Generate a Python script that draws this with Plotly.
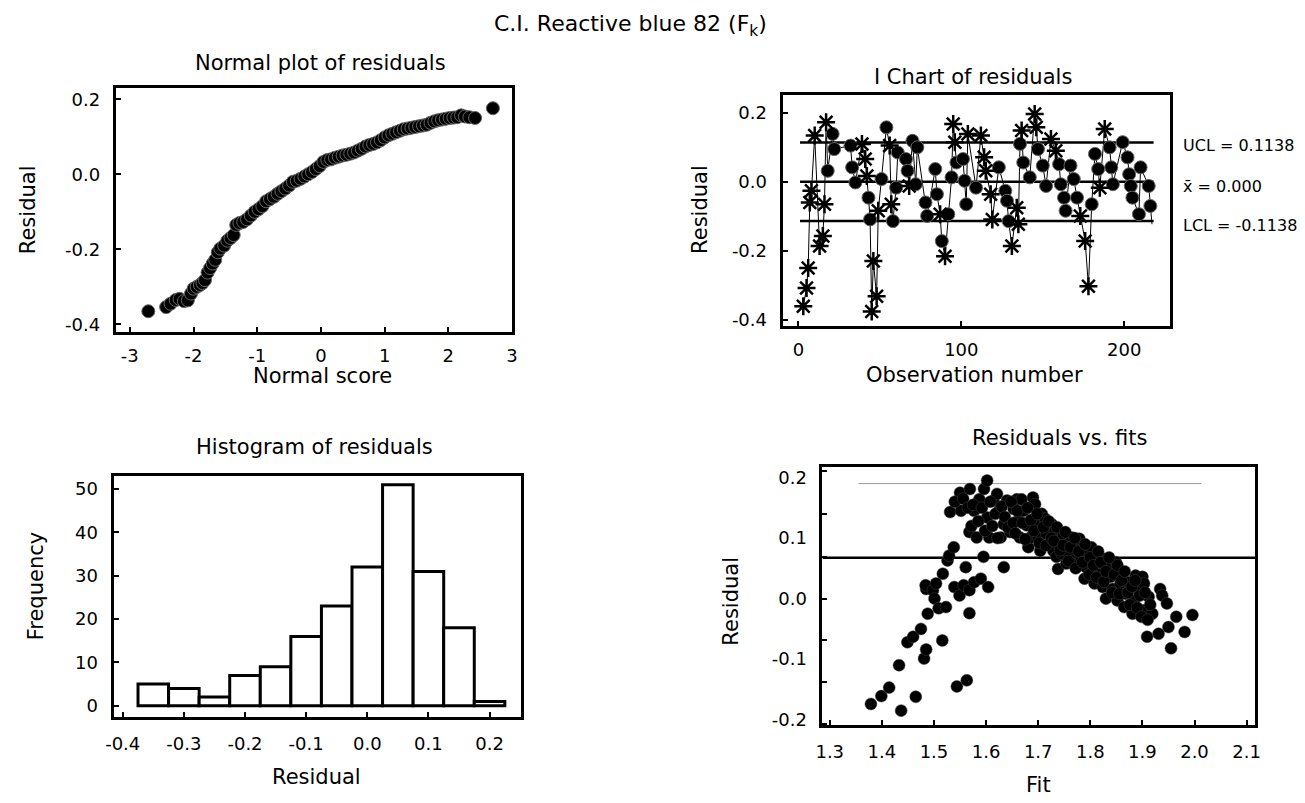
import plotly.graph_objects as go

W, H = 1305, 803
FONT = "DejaVu Sans"

# ---------------- data ----------------
# Normal plot of residuals
normal_scores = [-2.71, -2.43, -2.36, -2.28, -2.22, -2.15, -2.09, -2.04, -2.00, -1.95, -1.90, -1.86,
                 -1.82, -1.78, -1.74, -1.70, -1.66, -1.62, -1.58, -1.52, -1.47, -1.42, -1.37, -1.33,
                 -1.28, -1.22, -1.16, -1.10, -1.04, -0.98, -0.92, -0.86, -0.80, -0.74, -0.68, -0.62,
                 -0.56, -0.50, -0.44, -0.38, -0.32, -0.26, -0.20, -0.14, -0.08, -0.02, 0.04, 0.10,
                 0.16, 0.22, 0.28, 0.34, 0.40, 0.46, 0.52, 0.58, 0.64, 0.70, 0.76, 0.82, 0.88, 0.94,
                 1.00, 1.06, 1.12, 1.18, 1.24, 1.30, 1.36, 1.42, 1.48, 1.54, 1.60, 1.66, 1.72, 1.78,
                 1.84, 1.90, 1.96, 2.02, 2.08, 2.14, 2.20, 2.26, 2.33, 2.42, 2.70]
normal_resid = [-0.365, -0.354, -0.345, -0.335, -0.332, -0.338, -0.336, -0.318, -0.305, -0.300, -0.295, -0.290,
                -0.282, -0.262, -0.250, -0.238, -0.228, -0.208, -0.198, -0.190, -0.177, -0.170, -0.162, -0.135,
                -0.130, -0.127, -0.120, -0.110, -0.100, -0.093, -0.085, -0.072, -0.066, -0.060, -0.052, -0.045,
                -0.038, -0.030, -0.020, -0.017, -0.012, -0.006, 0.000, 0.006, 0.014, 0.022, 0.033, 0.038,
                0.040, 0.044, 0.047, 0.050, 0.052, 0.055, 0.058, 0.063, 0.068, 0.074, 0.078, 0.081, 0.085, 0.091,
                0.098, 0.104, 0.108, 0.112, 0.116, 0.120, 0.122, 0.124, 0.126, 0.128, 0.130, 0.132, 0.137, 0.141,
                0.144, 0.146, 0.148, 0.150, 0.151, 0.152, 0.157, 0.154, 0.152, 0.150, 0.176]

# I chart of residuals
obs_number = [3, 5, 6, 7, 8, 10, 13, 15, 16, 17, 18, 21, 22, 32, 33, 35, 39, 41, 42, 43, 44, 45, 46, 48, 49,
              51, 54, 56, 57, 58, 60, 61, 66, 67, 68, 70, 72, 73, 78, 79, 84, 85, 87, 88, 90, 92, 94, 95, 96,
              97, 101, 102, 103, 104, 109, 112, 114, 115, 118, 119, 123, 127, 128, 129, 131, 134, 135, 136, 137,
              138, 142, 145, 146, 147, 150, 152, 155, 158, 160, 161, 163, 164, 167, 169, 171, 173, 176, 178, 180,
              182, 184, 185, 188, 191, 192, 193, 199, 202, 203, 204, 205, 209, 210, 215, 216, 217]
obs_resid = [-0.361, -0.308, -0.250, -0.060, -0.026, 0.134, -0.186, -0.157, -0.065, 0.173, 0.032, 0.139, 0.095,
             0.105, 0.042, -0.002, 0.110, 0.066, 0.017, -0.046, -0.109, -0.376, -0.230, -0.332, -0.084,
             0.008, 0.158, 0.105, -0.065, -0.114, -0.017, 0.085, 0.066, 0.032, -0.012, 0.119, -0.007, 0.100,
             -0.060, -0.099, 0.037, -0.036, -0.094, -0.172, -0.216, -0.094, 0.013, 0.168, 0.115,
             0.056, 0.066, 0.003, -0.065, 0.139, -0.017, 0.134, 0.071, 0.032, -0.036, -0.109, 0.042, -0.026,
             -0.055, -0.114, -0.186, -0.075, -0.123, 0.110, 0.149,
             0.056, 0.013, 0.197, 0.158, 0.095, 0.047, -0.012, 0.124, 0.090, 0.051, -0.007, -0.046, -0.084,
             0.047, 0.008, -0.046, -0.099, -0.172, -0.303, -0.065,
             0.081, 0.037, -0.017, 0.153, 0.100, 0.042, -0.007, 0.115, 0.071, 0.022, -0.012, -0.046, -0.094,
             0.042, -0.012, -0.070, -0.123]
obs_flag = list("ssssssssssccccccsssccssssccsscccccscccccccscsccss"
                "ccccsc" "sssss" "cccc" "sss" "cscc" "sscccss" "cccccccss" "s"
                "ccc" "sscc" "cccccc" "cccc")
UCL, CENTER, LCL = 0.1138, 0.0, -0.1138
limit_span = [1, 218]
limit_labels = ["UCL = 0.1138", "x\u0304 = 0.000", "LCL = -0.1138"]

# Histogram of residuals
bin_centers = [-0.35, -0.30, -0.25, -0.20, -0.15, -0.10, -0.05, 0.00, 0.05, 0.10, 0.15, 0.20]
bin_counts = [5, 4, 2, 7, 9, 16, 23, 32, 51, 31, 18, 1]
bin_width = 0.05

# Residuals vs. fits (outer / visible points)
fits = [1.379, 1.399, 1.414, 1.437, 1.433, 1.465, 1.449, 1.460, 1.475, 1.481, 1.485, 1.488, 1.485, 1.484,
        1.498, 1.501, 1.504, 1.509, 1.516, 1.517, 1.523, 1.526, 1.529, 1.538, 1.531, 1.539, 1.544, 1.549,
        1.552, 1.550, 1.557, 1.561, 1.563, 1.568, 1.569, 1.568, 1.568, 1.577, 1.577, 1.582, 1.587, 1.590,
        1.595, 1.596, 1.602, 1.604, 1.602, 1.606, 1.614, 1.621, 1.625, 1.628, 1.634, 1.634, 1.640, 1.646,
        1.653, 1.659, 1.662, 1.665, 1.668, 1.672, 1.678, 1.681, 1.685, 1.690, 1.694, 1.697, 1.700, 1.704,
        1.707, 1.713, 1.716, 1.721, 1.726, 1.729, 1.732, 1.735, 1.738, 1.741, 1.745, 1.748, 1.754, 1.757,
        1.760, 1.764, 1.767, 1.773, 1.776, 1.779, 1.782, 1.789, 1.792, 1.795, 1.802, 1.805, 1.808, 1.811,
        1.817, 1.821, 1.824, 1.830, 1.833, 1.839, 1.843, 1.849, 1.852, 1.858, 1.862, 1.865, 1.868, 1.874,
        1.881, 1.884, 1.887, 1.893, 1.900, 1.903, 1.903, 1.909, 1.912, 1.919, 1.931, 1.934, 1.938, 1.947,
        1.950, 1.955, 1.965, 1.981, 1.996]
fit_resid = [-0.174, -0.161, -0.147, -0.185, -0.110, -0.162, -0.072, -0.063, -0.050, -0.099, -0.084, -0.025,
             0.016, 0.022, 0.014, 0.000, 0.025, -0.016, -0.069, 0.041, -0.014, 0.063, 0.071, 0.085, 0.143,
             0.019, -0.145, 0.005, 0.145, 0.175, 0.022, 0.052, -0.135, -0.024, 0.181, 0.110, 0.014, 0.145,
             0.027, 0.101, 0.164, 0.033, 0.069, 0.181, 0.195, 0.019, 0.134, 0.101, 0.162, 0.173, 0.145, 0.101,
             0.052, 0.123, 0.162, 0.110, 0.148, 0.164, 0.129, 0.101, 0.164, 0.145, 0.121, 0.085, 0.101, 0.167,
             0.156, 0.123, 0.101, 0.079, 0.140, 0.132, 0.107, 0.090, 0.123, 0.079, 0.112, 0.069, 0.049, 0.096,
             0.074, 0.107, 0.058, 0.090, 0.074, 0.101, 0.063, 0.085, 0.058, 0.099, 0.069, 0.033, 0.052, 0.079,
             0.085, 0.047, 0.025, 0.063, 0.071, 0.041, 0.019, 0.000, 0.052, 0.036, 0.016, 0.060, -0.003, 0.025,
             0.041, -0.014, 0.008, 0.027, -0.025, -0.003, 0.038, 0.014, 0.036, -0.019, 0.025, -0.063, 0.003,
             -0.025, -0.058, 0.016, 0.005, -0.008, -0.047, -0.082, -0.030, -0.055, -0.027]
# Residuals vs. fits (points inside the dense band)
fits_dense = [1.540, 1.556, 1.565, 1.572, 1.575, 1.585, 1.592, 1.598, 1.608, 1.612, 1.618, 1.622, 1.630,
              1.636, 1.642, 1.648, 1.652, 1.656, 1.660, 1.670, 1.675, 1.680, 1.686, 1.692, 1.698, 1.702,
              1.710, 1.715, 1.720, 1.725, 1.730, 1.736, 1.742, 1.748, 1.752, 1.758, 1.762, 1.770, 1.772,
              1.778, 1.785, 1.790, 1.798, 1.800, 1.806, 1.812, 1.815, 1.820, 1.826, 1.830, 1.836, 1.842,
              1.846, 1.852, 1.856, 1.860, 1.866, 1.872, 1.876, 1.880, 1.886, 1.890, 1.895, 1.898, 1.905,
              1.910, 1.915]
fit_resid_dense = [0.160, 0.165, 0.150, 0.120, 0.155, 0.128, 0.150, 0.112, 0.160, 0.120, 0.140, 0.100, 0.152,
                   0.135, 0.118, 0.160, 0.125, 0.108, 0.145, 0.125, 0.098, 0.150, 0.130, 0.112, 0.140, 0.092,
                   0.118, 0.088, 0.128, 0.100, 0.095, 0.118, 0.080, 0.088, 0.110, 0.062, 0.085, 0.100, 0.050,
                   0.078, 0.060, 0.090, 0.040, 0.068, 0.055, 0.035, 0.078, 0.060, 0.028, 0.045, 0.068, 0.010,
                   0.040, 0.055, 0.008, 0.030, 0.045, 0.010, -0.010, 0.020, 0.030, -0.015, 0.005, -0.030, 0.010,
                   -0.035, -0.010]
fit_ref_line = 0.0674
fit_ref_span = [1.286, 2.117]
fit_top_line_x = [1.355, 2.013]
fit_top_line_y = 0.190
fit_ytick_labels = [0.2, 0.1, 0.0, -0.1, -0.2]
fit_ytick_marks = [0.210, 0.139, 0.069, 0.0, -0.069, -0.137, -0.207]


# ---------------- helpers ----------------
def px_x(x):
    return x / W


def px_y(y):
    return 1 - y / H


def fmt(v, nd=1):
    s = f"{v:.{nd}f}"
    return "0.0" if s == "-0.0" else s


fig = go.Figure()

# Panel 1: normal plot
fig.add_trace(go.Scatter(x=normal_scores, y=normal_resid, mode="markers",
                         marker=dict(size=13, color="black", line=dict(color="#666", width=1)),
                         xaxis="x", yaxis="y", showlegend=False))

# Panel 2: I chart
for val in (UCL, CENTER, LCL):
    fig.add_trace(go.Scatter(x=limit_span, y=[val, val], mode="lines",
                             line=dict(color="black", width=2.5),
                             xaxis="x2", yaxis="y2", showlegend=False))
fig.add_trace(go.Scatter(x=obs_number, y=obs_resid, mode="lines",
                         line=dict(color="black", width=1),
                         xaxis="x2", yaxis="y2", showlegend=False))
cx = [x for x, f in zip(obs_number, obs_flag) if f == "c"]
cy = [y for y, f in zip(obs_resid, obs_flag) if f == "c"]
sx = [x for x, f in zip(obs_number, obs_flag) if f == "s"]
sy = [y for y, f in zip(obs_resid, obs_flag) if f == "s"]
fig.add_trace(go.Scatter(x=cx, y=cy, mode="markers",
                         marker=dict(size=13, color="black", line=dict(color="#666", width=1)),
                         xaxis="x2", yaxis="y2", showlegend=False))
fig.add_trace(go.Scatter(x=sx, y=sy, mode="markers",
                         marker=dict(symbol="asterisk-open", size=15, color="black",
                                     line=dict(color="black", width=2.5)),
                         xaxis="x2", yaxis="y2", showlegend=False))

# Panel 3: histogram
fig.add_trace(go.Bar(x=bin_centers, y=bin_counts, width=bin_width,
                     marker=dict(color="white", line=dict(color="black", width=3)),
                     xaxis="x3", yaxis="y3", showlegend=False))

# Panel 4: residuals vs fits
fig.add_trace(go.Scatter(x=fit_top_line_x, y=[fit_top_line_y] * 2, mode="lines",
                         line=dict(color="#999", width=1), xaxis="x4", yaxis="y4", showlegend=False))
fig.add_trace(go.Scatter(x=fit_ref_span, y=[fit_ref_line] * 2, mode="lines",
                         line=dict(color="black", width=2.5), xaxis="x4", yaxis="y4", showlegend=False))
fig.add_trace(go.Scatter(x=fits + fits_dense, y=fit_resid + fit_resid_dense, mode="markers",
                         marker=dict(size=12, color="black", line=dict(color="#444", width=0.5)),
                         xaxis="x4", yaxis="y4", showlegend=False))

tickfont = dict(family=FONT, size=18, color="black")
common = dict(showline=True, linecolor="black", linewidth=3, mirror=True, ticks="inside",
              ticklen=5, tickwidth=2, tickcolor="black", showgrid=False, zeroline=False,
              tickfont=tickfont, tickmode="array", ticklabelstandoff=9)

layout = dict(
    width=W, height=H, autosize=False,
    margin=dict(l=0, r=0, t=0, b=0),
    paper_bgcolor="white", plot_bgcolor="white",
    font=dict(family=FONT, color="black"),
    xaxis=dict(domain=[px_x(109), px_x(509.5)], range=[-3.22, 3.0], anchor="y",
               tickvals=[-3, -2, -1, 0, 1, 2, 3], ticktext=["-3", "-2", "-1", "0", "1", "2", "3"], **common),
    yaxis=dict(domain=[px_y(333), px_y(88)], range=[-0.419, 0.229], anchor="x",
               tickvals=[-0.4, -0.2, 0.0, 0.2], ticktext=["-0.4", "-0.2", "0.0", "0.2"], **common),
    xaxis2=dict(domain=[px_x(783), px_x(1175)], range=[-9.7, 228.3], anchor="y2",
                tickvals=[0, 100, 200], ticktext=["0", "100", "200"], **common),
    yaxis2=dict(domain=[px_y(327), px_y(95)], range=[-0.417, 0.251], anchor="x2",
                tickvals=[-0.4, -0.2, 0.0, 0.2], ticktext=["-0.4", "-0.2", "0.0", "0.2"], **common),
    xaxis3=dict(domain=[px_x(106.7), px_x(518.3)], range=[-0.415, 0.251], anchor="y3",
                tickvals=[-0.4, -0.3, -0.2, -0.1, 0.0, 0.1, 0.2],
                ticktext=["-0.4", "-0.3", "-0.2", "-0.1", "0.0", "0.1", "0.2"], **common),
    yaxis3=dict(domain=[px_y(721), px_y(478.3)], range=[-2.5, 53.07], anchor="x3",
                tickvals=[0, 10, 20, 30, 40, 50], ticktext=["0", "10", "20", "30", "40", "50"], **common),
    xaxis4=dict(domain=[px_x(823.3), px_x(1261)], range=[1.286, 2.117], anchor="y4",
                tickvals=[1.3, 1.4, 1.5, 1.6, 1.7, 1.8, 1.9, 2.0, 2.1],
                ticktext=["1.3", "1.4", "1.5", "1.6", "1.7", "1.8", "1.9", "2.0", "2.1"], **common),
)
for k in ("xaxis", "xaxis2"):
    layout[k]["ticklabelstandoff"] = 6
y4 = dict(common)
y4.update(ticks="", tickvals=fit_ytick_labels, ticktext=[fmt(v) for v in fit_ytick_labels],
          minor=dict(tickmode="array", tickvals=fit_ytick_marks, ticks="inside", ticklen=5,
                     tickwidth=2, tickcolor="black", showgrid=False))
layout["yaxis4"] = dict(domain=[px_y(729), px_y(470)], range=[-0.208, 0.2166], anchor="x4", **y4)
fig.update_layout(**layout)


# ---------------- text ----------------
def ann(text, x, y, size, angle=0, xanchor="center"):
    fig.add_annotation(text=text, x=px_x(x), y=px_y(y), xref="paper", yref="paper",
                       showarrow=False, textangle=angle, xanchor=xanchor, yanchor="middle",
                       font=dict(family=FONT, size=size, color="black"))


ann("C.I. Reactive blue 82 (F<sub>k</sub>)", 629, 25, 22)
ann("Normal plot of residuals", 316, 62, 21)
ann("Normal score", 318, 378, 21)
ann("Residual", 21, 210, 21, angle=-90)
ann("I Chart of residuals", 975, 77, 21)
ann("Residual", 700, 210, 21, angle=-90)
ann("Observation number", 977, 377, 21)
ann("Histogram of residuals", 310, 449, 21)
ann("Frequency", 28, 589, 21, angle=-90)
ann("Residual", 312, 782, 21)
ann("Residuals vs. fits", 1063, 440, 21)
ann("Residual", 731, 605, 21, angle=-90)
ann("Fit", 1042, 790, 21)
ann(limit_labels[0], 1186, 146, 16, xanchor="left")
ann(limit_labels[1], 1186, 187, 16, xanchor="left")
ann(limit_labels[2], 1186, 226, 16, xanchor="left")

fig.write_html("out.html")
